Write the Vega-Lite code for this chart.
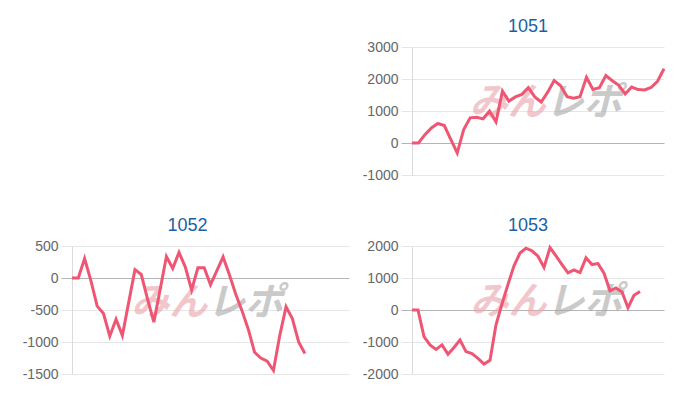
{
  "$schema": "https://vega.github.io/schema/vega-lite/v6.json",
  "padding": {"left": 22, "top": 18, "right": 5, "bottom": 5},
  "background": "white",
  "config": {
    "font": "Liberation Sans",
    "view": {"stroke": null},
    "title": {"fontSize": 18, "fontWeight": "normal", "color": "#1a5fa6", "font": "Liberation Sans", "offset": 4, "baseline": "alphabetic"},
    "axisY": {"labelFontSize": 14, "labelColor": "#666666", "labelFont": "Liberation Sans", "tickSize": 11, "labelPadding": 3, "domainColor": "#dadada", "domainWidth": 1, "grid": true, "gridWidth": 1, "gridColor": "#e6e6e6", "tickColor": "#e6e6e6", "labelOverlap": false}
  },
  "columns": 2,
  "bounds": "flush",
  "spacing": {"column": 63, "row": 71},
  "concat": [
    {
      "width": 277, "height": 128,
      "data": {"values": [{"i": 0, "v": 0}]},
      "mark": {"type": "point", "opacity": 0},
      "encoding": {"x": {"field": "i", "type": "quantitative", "axis": null}, "y": {"field": "v", "type": "quantitative", "axis": null}}
    },
    {
      "width": 252, "height": 128,
      "title": {"text": "1051", "dx": -10},
      "layer": [
        {
          "data": {"values": [{"w": 1}]},
          "mark": {"type": "text", "text": "みん", "align": "right", "baseline": "middle", "font": "Noto Sans CJK JP", "fontSize": 38, "fontWeight": "bold", "fontStyle": "italic", "color": "#eba3aa", "opacity": 0.6},
          "encoding": {
            "x": {"datum": 20.7, "type": "quantitative", "scale": {"domain": [0, 39], "nice": false}, "axis": null},
            "y": {"datum": 1220, "type": "quantitative", "scale": {"domain": [-1000, 3000], "nice": false, "zero": false},
                  "axis": {"title": null, "values": [-1000, 0, 1000, 2000, 3000], "labelExpr": "'' + datum.value",
                           "gridColor": {"condition": {"test": "datum.value === 0", "value": "#b5b5b5"}, "value": "#e6e6e6"},
                           "tickColor": {"condition": {"test": "datum.value === 0", "value": "#b5b5b5"}, "value": "#e6e6e6"}}}
          }
        },
        {
          "data": {"values": [{"w": 1}]},
          "mark": {"type": "text", "text": "レポ", "align": "left", "baseline": "middle", "font": "Noto Sans CJK JP", "fontSize": 38, "fontWeight": "bold", "fontStyle": "italic", "color": "#a8a8a8", "opacity": 0.6},
          "encoding": {
            "x": {"datum": 20.7, "type": "quantitative", "scale": {"domain": [0, 39], "nice": false}, "axis": null},
            "y": {"datum": 1220, "type": "quantitative", "scale": {"domain": [-1000, 3000], "nice": false, "zero": false},
                  "axis": {"title": null, "values": [-1000, 0, 1000, 2000, 3000], "labelExpr": "'' + datum.value",
                           "gridColor": {"condition": {"test": "datum.value === 0", "value": "#b5b5b5"}, "value": "#e6e6e6"},
                           "tickColor": {"condition": {"test": "datum.value === 0", "value": "#b5b5b5"}, "value": "#e6e6e6"}}}
          }
        },
        {
          "data": {"values": [
            {"i": 0, "v": 0}, {"i": 1, "v": 0}, {"i": 2, "v": 260}, {"i": 3, "v": 470}, {"i": 4, "v": 610},
            {"i": 5, "v": 545}, {"i": 6, "v": 110}, {"i": 7, "v": -310}, {"i": 8, "v": 420}, {"i": 9, "v": 785},
            {"i": 10, "v": 805}, {"i": 11, "v": 755}, {"i": 12, "v": 995}, {"i": 13, "v": 660}, {"i": 14, "v": 1620},
            {"i": 15, "v": 1310}, {"i": 16, "v": 1440}, {"i": 17, "v": 1520}, {"i": 18, "v": 1730}, {"i": 19, "v": 1440},
            {"i": 20, "v": 1280}, {"i": 21, "v": 1590}, {"i": 22, "v": 1955}, {"i": 23, "v": 1790}, {"i": 24, "v": 1450},
            {"i": 25, "v": 1400}, {"i": 26, "v": 1445}, {"i": 27, "v": 2055}, {"i": 28, "v": 1670}, {"i": 29, "v": 1725},
            {"i": 30, "v": 2110}, {"i": 31, "v": 1945}, {"i": 32, "v": 1805}, {"i": 33, "v": 1535}, {"i": 34, "v": 1750},
            {"i": 35, "v": 1670}, {"i": 36, "v": 1660}, {"i": 37, "v": 1735}, {"i": 38, "v": 1930}, {"i": 39, "v": 2320}
          ]},
          "mark": {"type": "line", "color": "#ee5673", "strokeWidth": 3},
          "encoding": {
            "x": {"field": "i", "type": "quantitative", "scale": {"domain": [0, 39], "nice": false}, "axis": null},
            "y": {"field": "v", "type": "quantitative", "scale": {"domain": [-1000, 3000], "nice": false, "zero": false},
                  "axis": {"title": null, "values": [-1000, 0, 1000, 2000, 3000], "labelExpr": "'' + datum.value",
                           "gridColor": {"condition": {"test": "datum.value === 0", "value": "#b5b5b5"}, "value": "#e6e6e6"},
                           "tickColor": {"condition": {"test": "datum.value === 0", "value": "#b5b5b5"}, "value": "#e6e6e6"}}}
          }
        }
      ]
    },
    {
      "width": 277, "height": 128,
      "title": {"text": "1052", "dx": -23},
      "layer": [
        {
          "data": {"values": [{"w": 1}]},
          "mark": {"type": "text", "text": "みん", "align": "right", "baseline": "middle", "font": "Noto Sans CJK JP", "fontSize": 38, "fontWeight": "bold", "fontStyle": "italic", "color": "#eba3aa", "opacity": 0.6},
          "encoding": {
            "x": {"datum": 21.5, "type": "quantitative", "scale": {"domain": [0, 44], "nice": false}, "axis": null},
            "y": {"datum": -405, "type": "quantitative", "scale": {"domain": [-1500, 500], "nice": false, "zero": false},
                  "axis": {"title": null, "values": [-1500, -1000, -500, 0, 500], "labelExpr": "'' + datum.value",
                           "gridColor": {"condition": {"test": "datum.value === 0", "value": "#b5b5b5"}, "value": "#e6e6e6"},
                           "tickColor": {"condition": {"test": "datum.value === 0", "value": "#b5b5b5"}, "value": "#e6e6e6"}}}
          }
        },
        {
          "data": {"values": [{"w": 1}]},
          "mark": {"type": "text", "text": "レポ", "align": "left", "baseline": "middle", "font": "Noto Sans CJK JP", "fontSize": 38, "fontWeight": "bold", "fontStyle": "italic", "color": "#a8a8a8", "opacity": 0.6},
          "encoding": {
            "x": {"datum": 21.5, "type": "quantitative", "scale": {"domain": [0, 44], "nice": false}, "axis": null},
            "y": {"datum": -405, "type": "quantitative", "scale": {"domain": [-1500, 500], "nice": false, "zero": false},
                  "axis": {"title": null, "values": [-1500, -1000, -500, 0, 500], "labelExpr": "'' + datum.value",
                           "gridColor": {"condition": {"test": "datum.value === 0", "value": "#b5b5b5"}, "value": "#e6e6e6"},
                           "tickColor": {"condition": {"test": "datum.value === 0", "value": "#b5b5b5"}, "value": "#e6e6e6"}}}
          }
        },
        {
          "data": {"values": [
            {"i": 0, "v": 0}, {"i": 1, "v": 0}, {"i": 2, "v": 305}, {"i": 3, "v": -40}, {"i": 4, "v": -440},
            {"i": 5, "v": -555}, {"i": 6, "v": -910}, {"i": 7, "v": -645}, {"i": 8, "v": -900}, {"i": 9, "v": -385},
            {"i": 10, "v": 130}, {"i": 11, "v": 55}, {"i": 12, "v": -330}, {"i": 13, "v": -690}, {"i": 14, "v": -180},
            {"i": 15, "v": 335}, {"i": 16, "v": 150}, {"i": 17, "v": 400}, {"i": 18, "v": 170}, {"i": 19, "v": -185},
            {"i": 20, "v": 160}, {"i": 21, "v": 160}, {"i": 22, "v": -105}, {"i": 23, "v": 110}, {"i": 24, "v": 330},
            {"i": 25, "v": 50}, {"i": 26, "v": -250}, {"i": 27, "v": -510}, {"i": 28, "v": -800}, {"i": 29, "v": -1160},
            {"i": 30, "v": -1250}, {"i": 31, "v": -1300}, {"i": 32, "v": -1445}, {"i": 33, "v": -900}, {"i": 34, "v": -450},
            {"i": 35, "v": -635}, {"i": 36, "v": -1000}, {"i": 37, "v": -1180}
          ]},
          "mark": {"type": "line", "color": "#ee5673", "strokeWidth": 3},
          "encoding": {
            "x": {"field": "i", "type": "quantitative", "scale": {"domain": [0, 44], "nice": false}, "axis": null},
            "y": {"field": "v", "type": "quantitative", "scale": {"domain": [-1500, 500], "nice": false, "zero": false},
                  "axis": {"title": null, "values": [-1500, -1000, -500, 0, 500], "labelExpr": "'' + datum.value",
                           "gridColor": {"condition": {"test": "datum.value === 0", "value": "#b5b5b5"}, "value": "#e6e6e6"},
                           "tickColor": {"condition": {"test": "datum.value === 0", "value": "#b5b5b5"}, "value": "#e6e6e6"}}}
          }
        }
      ]
    },
    {
      "width": 252, "height": 128,
      "title": {"text": "1053", "dx": -10},
      "layer": [
        {
          "data": {"values": [{"w": 1}]},
          "mark": {"type": "text", "text": "みん", "align": "right", "baseline": "middle", "font": "Noto Sans CJK JP", "fontSize": 38, "fontWeight": "bold", "fontStyle": "italic", "color": "#eba3aa", "opacity": 0.6},
          "encoding": {
            "x": {"datum": 22.4, "type": "quantitative", "scale": {"domain": [0, 42], "nice": false}, "axis": null},
            "y": {"datum": 230, "type": "quantitative", "scale": {"domain": [-2000, 2000], "nice": false, "zero": false},
                  "axis": {"title": null, "values": [-2000, -1000, 0, 1000, 2000], "labelExpr": "'' + datum.value",
                           "gridColor": {"condition": {"test": "datum.value === 0", "value": "#b5b5b5"}, "value": "#e6e6e6"},
                           "tickColor": {"condition": {"test": "datum.value === 0", "value": "#b5b5b5"}, "value": "#e6e6e6"}}}
          }
        },
        {
          "data": {"values": [{"w": 1}]},
          "mark": {"type": "text", "text": "レポ", "align": "left", "baseline": "middle", "font": "Noto Sans CJK JP", "fontSize": 38, "fontWeight": "bold", "fontStyle": "italic", "color": "#a8a8a8", "opacity": 0.6},
          "encoding": {
            "x": {"datum": 22.4, "type": "quantitative", "scale": {"domain": [0, 42], "nice": false}, "axis": null},
            "y": {"datum": 230, "type": "quantitative", "scale": {"domain": [-2000, 2000], "nice": false, "zero": false},
                  "axis": {"title": null, "values": [-2000, -1000, 0, 1000, 2000], "labelExpr": "'' + datum.value",
                           "gridColor": {"condition": {"test": "datum.value === 0", "value": "#b5b5b5"}, "value": "#e6e6e6"},
                           "tickColor": {"condition": {"test": "datum.value === 0", "value": "#b5b5b5"}, "value": "#e6e6e6"}}}
          }
        },
        {
          "data": {"values": [
            {"i": 0, "v": 0}, {"i": 1, "v": 0}, {"i": 2, "v": -830}, {"i": 3, "v": -1090}, {"i": 4, "v": -1230},
            {"i": 5, "v": -1090}, {"i": 6, "v": -1380}, {"i": 7, "v": -1170}, {"i": 8, "v": -940}, {"i": 9, "v": -1300},
            {"i": 10, "v": -1360}, {"i": 11, "v": -1510}, {"i": 12, "v": -1690}, {"i": 13, "v": -1570}, {"i": 14, "v": -460},
            {"i": 15, "v": 190}, {"i": 16, "v": 800}, {"i": 17, "v": 1380}, {"i": 18, "v": 1780}, {"i": 19, "v": 1930},
            {"i": 20, "v": 1850}, {"i": 21, "v": 1680}, {"i": 22, "v": 1330}, {"i": 23, "v": 1950}, {"i": 24, "v": 1690},
            {"i": 25, "v": 1420}, {"i": 26, "v": 1160}, {"i": 27, "v": 1250}, {"i": 28, "v": 1170}, {"i": 29, "v": 1630},
            {"i": 30, "v": 1420}, {"i": 31, "v": 1450}, {"i": 32, "v": 1150}, {"i": 33, "v": 600}, {"i": 34, "v": 690},
            {"i": 35, "v": 560}, {"i": 36, "v": 70}, {"i": 37, "v": 460}, {"i": 38, "v": 580}
          ]},
          "mark": {"type": "line", "color": "#ee5673", "strokeWidth": 3},
          "encoding": {
            "x": {"field": "i", "type": "quantitative", "scale": {"domain": [0, 42], "nice": false}, "axis": null},
            "y": {"field": "v", "type": "quantitative", "scale": {"domain": [-2000, 2000], "nice": false, "zero": false},
                  "axis": {"title": null, "values": [-2000, -1000, 0, 1000, 2000], "labelExpr": "'' + datum.value",
                           "gridColor": {"condition": {"test": "datum.value === 0", "value": "#b5b5b5"}, "value": "#e6e6e6"},
                           "tickColor": {"condition": {"test": "datum.value === 0", "value": "#b5b5b5"}, "value": "#e6e6e6"}}}
          }
        }
      ]
    }
  ]
}
